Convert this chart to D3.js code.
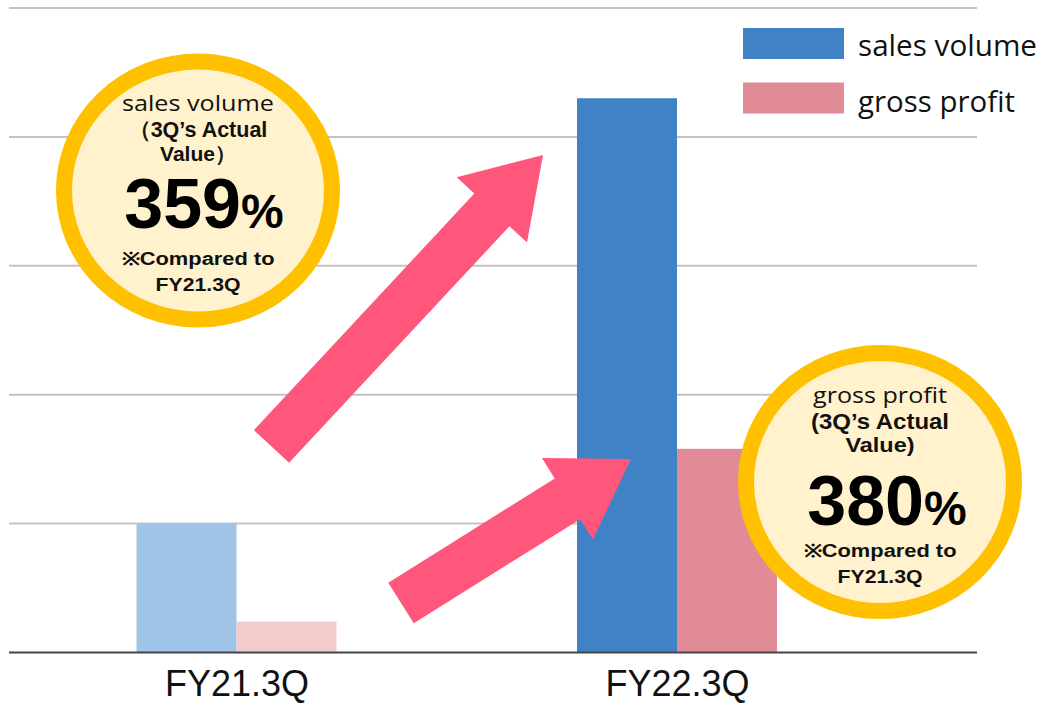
<!DOCTYPE html>
<html>
<head>
<meta charset="utf-8">
<script src="https://cdn.jsdelivr.net/npm/d3@7"></script>
<style>
  html, body { margin: 0; padding: 0; background: #fff; }
  svg { display: block; }
</style>
</head>
<body>
<svg id="chart" width="1042" height="703"></svg>
<script>
// ---- data ----
const categories = ["FY21.3Q", "FY22.3Q"];
const seriesNames = ["sales volume", "gross profit"];
const salesVolume = [10.0, 43.0];
const grossProfit = [2.4, 15.8];
const yTicks = [0, 10, 20, 30, 40, 50];
const growthLabels = [
  { title: "sales volume", sub1: "（3Q’s Actual", sub2: "Value）", pct: "359", note1: "※Compared to", note2: "FY21.3Q" },
  { title: "gross profit", sub1: "(3Q’s Actual", sub2: "Value)", pct: "380", note1: "※Compared to", note2: "FY21.3Q" }
];

// ---- layout ----
const plot = { left: 9, right: 977, top: 8, bottom: 652.5 };
const colorsStrong = ["#3f83c6", "#e18b96"];
const colorsLight = ["#a0c4e8", "#f4cbcc"];

const svg = d3.select("#chart");

const y = d3.scaleLinear().domain([0, 50]).range([plot.bottom, plot.top]);
const xc = d3.scalePoint().domain(categories).range([236.5, 677]);
const barW = 100;

// gridlines
svg.append("g").selectAll("line").data(yTicks.filter(t => t > 0)).join("line")
  .attr("x1", plot.left).attr("x2", plot.right)
  .attr("y1", d => y(d)).attr("y2", d => y(d))
  .attr("stroke", "#c3c3c3").attr("stroke-width", 2);

// bars
const barData = [];
categories.forEach((c, i) => {
  [salesVolume, grossProfit].forEach((arr, s) => {
    barData.push({ cat: c, ci: i, s, v: arr[i] });
  });
});
svg.append("g").selectAll("rect").data(barData).join("rect")
  .attr("x", d => xc(d.cat) - barW + d.s * barW)
  .attr("width", barW)
  .attr("y", d => y(d.v))
  .attr("height", d => y(0) - y(d.v))
  .attr("fill", d => d.ci === 0 ? colorsLight[d.s] : colorsStrong[d.s]);

// baseline
svg.append("line")
  .attr("x1", plot.left).attr("x2", plot.right)
  .attr("y1", y(0)).attr("y2", y(0))
  .attr("stroke", "#444").attr("stroke-width", 2);

// x axis labels
const xAxis = d3.axisBottom(xc).tickSize(0).tickPadding(18);
const gx = svg.append("g").attr("transform", `translate(0,${y(0)})`).call(xAxis);
gx.select(".domain").remove();
gx.selectAll("text")
  .attr("font-family", "'Liberation Sans', Arial, sans-serif")
  .attr("font-size", 36).attr("fill", "#111");

// arrows
function arrowPath(tail, tip, sw, hw, hl) {
  const dx = tip[0] - tail[0], dy = tip[1] - tail[1];
  const L = Math.hypot(dx, dy);
  const ux = dx / L, uy = dy / L, nx = -uy, ny = ux;
  const bx = tip[0] - ux * hl, by = tip[1] - uy * hl;
  const p = [
    [tail[0] + nx * sw / 2, tail[1] + ny * sw / 2],
    [bx + nx * sw / 2, by + ny * sw / 2],
    [bx + nx * hw / 2, by + ny * hw / 2],
    tip,
    [bx - nx * hw / 2, by - ny * hw / 2],
    [bx - nx * sw / 2, by - ny * sw / 2],
    [tail[0] - nx * sw / 2, tail[1] - ny * sw / 2]
  ];
  return "M" + p.map(q => q.join(",")).join("L") + "Z";
}
const arrows = [
  { tail: [271.5, 446.5], tip: [543, 155] },
  { tail: [401, 603], tip: [631, 459] }
];
svg.append("g").selectAll("path").data(arrows).join("path")
  .attr("d", d => arrowPath(d.tail, d.tip, 48, 96, 75))
  .attr("fill", "#fe577b");

// badges
const badges = [
  { cx: 198, cy: 190.5, pctDx: 6, pctDy: 37.5 },
  { cx: 880, cy: 482, pctDx: 7, pctDy: 43 }
];
const bold = "'Liberation Sans', Arial, sans-serif";
const light = "'Open Sans', 'Noto Sans', sans-serif";
badges.forEach((b, i) => {
  const lab = growthLabels[i];
  const g = svg.append("g");
  g.append("ellipse").attr("cx", b.cx).attr("cy", b.cy).attr("rx", 134).attr("ry", 129)
    .attr("fill", "#fff2cc").attr("stroke", "#ffc000").attr("stroke-width", 16);
  const lines = [
    { t: lab.title, dy: -79.5, fs: 22, fam: light, fw: 400, len: i === 0 ? 152 : 134 },
    { t: lab.sub1, dy: -53.5, fs: 21.5, fam: bold, fw: 700, len: i === 0 ? null : 138 },
    { t: lab.sub2, dy: -30, fs: 21, fam: bold, fw: 700, len: i === 0 ? null : 69 },
    { t: lab.note1, dy: 74.5, fs: 18, fam: bold, fw: 700, len: 153 },
    { t: lab.note2, dy: 100.5, fs: 18.5, fam: bold, fw: 700, len: 85 }
  ];
  lines.forEach(l => {
    const t = g.append("text").attr("x", b.cx).attr("y", b.cy + l.dy)
      .attr("text-anchor", "middle")
      .attr("font-family", l.fam).attr("font-weight", l.fw).attr("font-size", l.fs)
      .attr("fill", "#111").text(l.t);
    if (l.len) t.attr("textLength", l.len).attr("lengthAdjust", "spacingAndGlyphs");
  });
  const pt = g.append("text").attr("x", b.cx + b.pctDx).attr("y", b.cy + b.pctDy)
    .attr("text-anchor", "middle").attr("font-family", bold).attr("font-weight", 700)
    .attr("fill", "#000");
  pt.append("tspan").attr("font-size", 70).text(lab.pct);
  pt.append("tspan").attr("font-size", 48).text("%");
});

// legend
const lg = svg.append("g");
seriesNames.forEach((n, i) => {
  lg.append("rect").attr("x", 743).attr("y", 28 + i * 54.5).attr("width", 101).attr("height", 31)
    .attr("fill", colorsStrong[i]);
  lg.append("text").attr("x", 858).attr("y", 56 + i * 55.5)
    .attr("font-family", light).attr("font-size", 29)
    .attr("textLength", i === 0 ? 179 : 157).attr("lengthAdjust", "spacingAndGlyphs")
    .attr("fill", "#111").text(n);
});
</script>
</body>
</html>
